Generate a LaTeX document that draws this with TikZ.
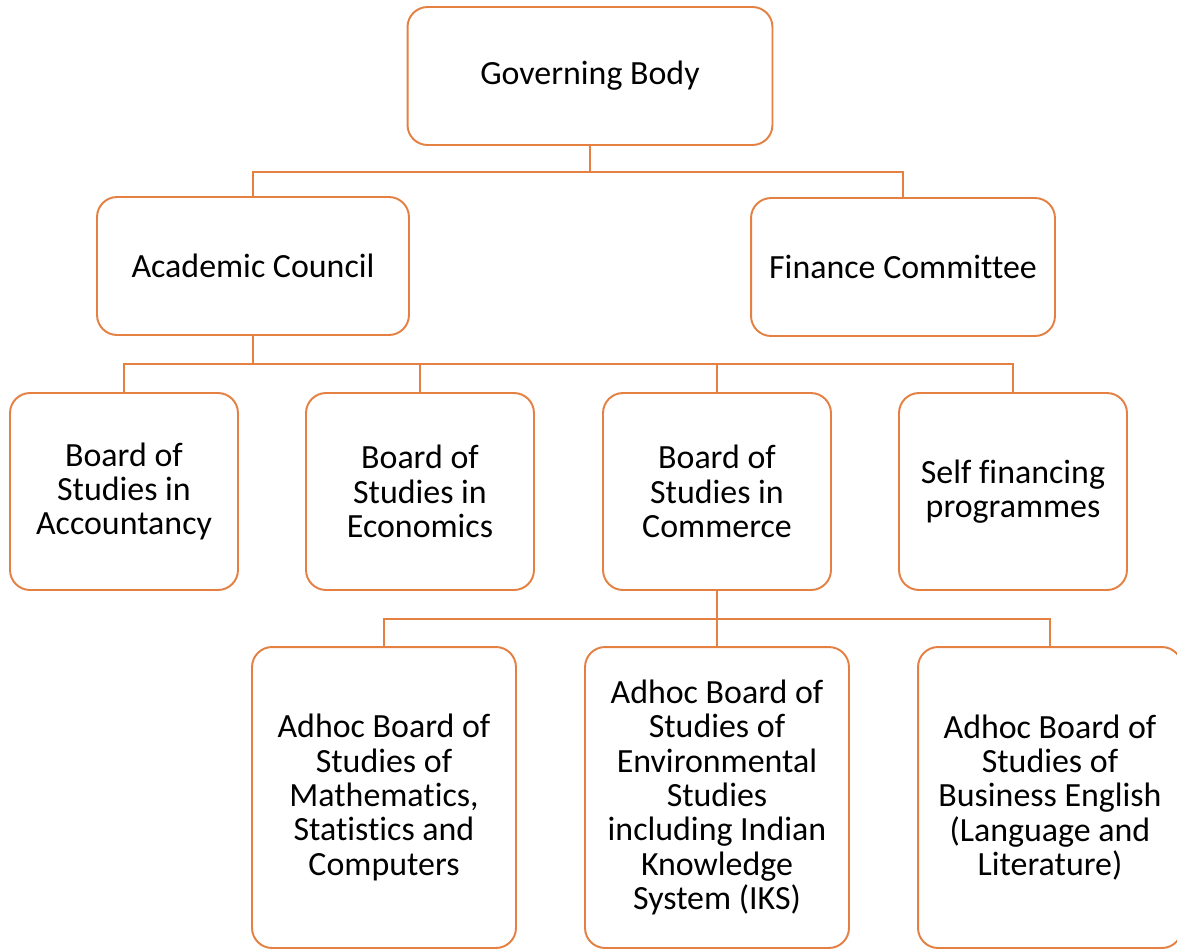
\documentclass[tikz,border=0pt]{standalone}
\usepackage{fontspec}
\setmainfont{Carlito}[Ligatures={NoCommon}]
\usepackage{tikz}
\usetikzlibrary{positioning}
\definecolor{boxline}{RGB}{228,128,66}
\tikzset{
    unit/.style={
           rectangle,
           rounded corners=0.4cm,
           draw=boxline,
           line width=1.1pt,
           fill=white,
           align=center,
           inner sep=2pt,
           font=\fontsize{19.3}{19.6}\selectfont,
           },
    link/.style={draw=boxline,line width=1.1pt},
}
\begin{document}
\begin{tikzpicture}[
  x=0.02cm,y=-0.02cm,
  top/.style={minimum width=7.3cm,minimum height=2.76cm},
  board/.style={minimum width=4.56cm,minimum height=3.94cm},
  adhoc/.style={minimum width=5.28cm,minimum height=6.02cm}]
\useasboundingbox (0,0) rectangle (1177,951);
\node[unit,top](gov) at (590,76){Governing Body};
\node[unit,top,minimum width=6.24cm](acad) at (253,266){Academic Council};
\node[unit,top,minimum width=6.08cm](fin) at (903,267){Finance Committee};
\node[unit,board](acc) at (124,491.5){Board of\\Studies in\\Accountancy};
\node[unit,board](eco) at (420,491.5){Board of\\Studies in\\Economics};
\node[unit,board](com) at (717,491.5){Board of\\Studies in\\Commerce};
\node[unit,board](sfp) at (1013,491.5){Self financing\\programmes};
\node[unit,adhoc](math) at (384,797.5){Adhoc Board of\\Studies of\\Mathematics,\\Statistics and\\Computers};
\node[unit,adhoc](env) at (717,797.5){Adhoc Board of\\Studies of\\Environmental\\Studies\\including Indian\\Knowledge\\System (IKS)};
\node[unit,adhoc](bus) at (1050,797.5){Adhoc Board of\\Studies of\\Business English\\(Language and\\Literature)};

\path[link] (gov.south) -- ++(0,26) -| (acad.north)
            (gov.south) -- ++(0,26) -| (fin.north)
            (acad.south) -- ++(0,28) -| (acc.north)
            (acad.south) -- ++(0,28) -| (eco.north)
            (acad.south) -- ++(0,28) -| (com.north)
            (acad.south) -- ++(0,28) -| (sfp.north)
            (com.south) -- ++(0,28) -| (math.north)
            (com.south) -- ++(0,28) -| (env.north)
            (com.south) -- ++(0,28) -| (bus.north);
\end{tikzpicture}
\end{document}
